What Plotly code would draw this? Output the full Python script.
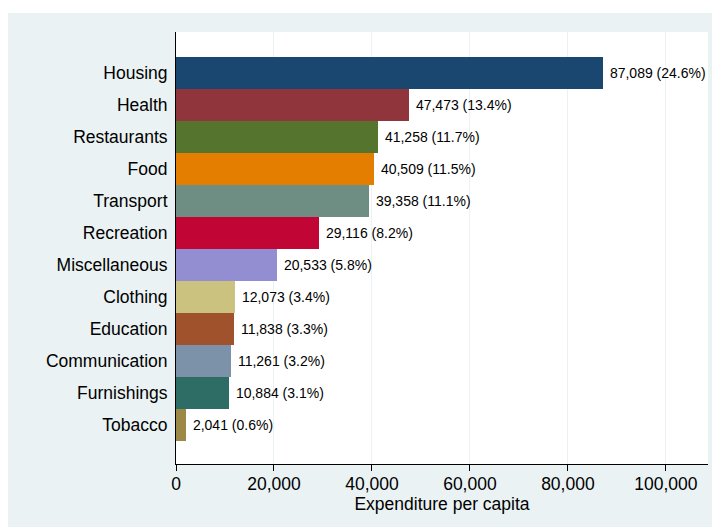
import plotly.graph_objects as go

categories = ["Housing", "Health", "Restaurants", "Food", "Transport", "Recreation",
              "Miscellaneous", "Clothing", "Education", "Communication", "Furnishings", "Tobacco"]
values = [87089, 47473, 41258, 40509, 39358, 29116, 20533, 12073, 11838, 11261, 10884, 2041]
shares = [24.6, 13.4, 11.7, 11.5, 11.1, 8.2, 5.8, 3.4, 3.3, 3.2, 3.1, 0.6]
colors = ["#1a476f", "#90353b", "#55752f", "#e37e00", "#6e8e84", "#c10534",
          "#938dd2", "#cac27e", "#a0522d", "#7b92a8", "#2d6d66", "#9c8847"]
x_ticks = [0, 20000, 40000, 60000, 80000, 100000]
x_ticklabels = ["0", "20,000", "40,000", "60,000", "80,000", "100,000"]

labels = [" {:,} ({:.1f}%)".format(v, s) for v, s in zip(values, shares)]

FONT = "Liberation Sans, Arial, Helvetica, sans-serif"
PANEL = "#EAF2F3"

W, H = 712, 527
L, R, T, B = 176, 4, 32, 63
pw, ph = W - L - R, H - T - B

def px_to_paper_x(px):
    return (px - L) / pw

def px_to_paper_y(py):
    return (H - B - py) / ph

fig = go.Figure()
fig.add_trace(go.Bar(
    x=values, y=categories, orientation="h",
    marker=dict(color=colors, line=dict(width=0)),
    text=labels, textposition="outside", cliponaxis=False,
    textfont=dict(size=14, color="#000000", family=FONT),
    hoverinfo="skip",
))

n = len(categories)
fig.update_layout(
    width=W, height=H,
    margin=dict(l=L, r=R, t=T, b=B, autoexpand=False),
    paper_bgcolor=PANEL, plot_bgcolor="#ffffff",
    bargap=0, showlegend=False,
    font=dict(family=FONT, color="#000000"),
    xaxis=dict(
        range=[0, 108600], tickvals=x_ticks, ticktext=x_ticklabels,
        showgrid=True, gridcolor=PANEL, gridwidth=1, zeroline=False,
        showline=True, linecolor="#000000", linewidth=1,
        ticks="outside", ticklen=6, tickcolor="#000000", tickwidth=1,
        ticklabelstandoff=-2,
        tickfont=dict(size=17.5, color="#000000"),
        title=dict(text="Expenditure per capita", font=dict(size=17.5, color="#000000"), standoff=3),
        automargin=False, fixedrange=True,
    ),
    yaxis=dict(
        type="category", categoryorder="array", categoryarray=categories,
        range=[n - 1 + 1.23, -1.266],
        showgrid=False, zeroline=False,
        showline=True, linecolor="#000000", linewidth=1,
        ticks="", ticklabelstandoff=4,
        tickfont=dict(size=17.5, color="#000000"),
        automargin=False, fixedrange=True,
    ),
    shapes=[
        dict(type="rect", xref="paper", yref="paper", layer="below",
             x0=px_to_paper_x(-2), x1=px_to_paper_x(8), y0=px_to_paper_y(H + 2), y1=px_to_paper_y(-2),
             fillcolor="#ffffff", line=dict(width=0)),
        dict(type="rect", xref="paper", yref="paper", layer="below",
             x0=px_to_paper_x(-2), x1=px_to_paper_x(W + 2), y0=px_to_paper_y(13), y1=px_to_paper_y(-2),
             fillcolor="#ffffff", line=dict(width=0)),
    ],
)

fig.write_html(
    "out.html",
    config={"displayModeBar": False},
    post_script="document.body.style.margin='0';document.body.style.overflow='hidden';",
)
